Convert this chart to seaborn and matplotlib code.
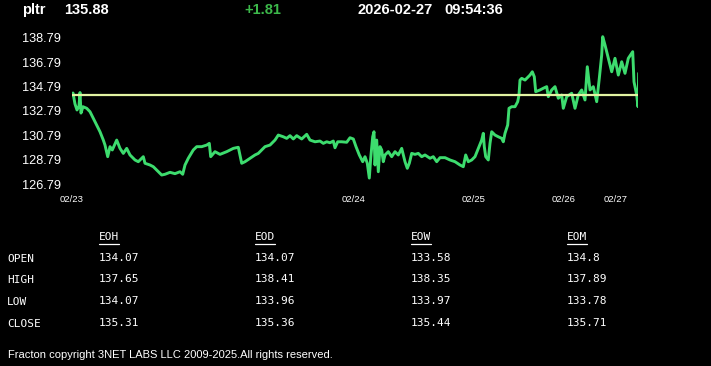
import matplotlib
matplotlib.use("Agg")
import matplotlib.pyplot as plt
import seaborn as sns
import pandas as pd
from matplotlib.lines import Line2D

# ---------------- data ----------------
symbol = "pltr"
last_price = "135.88"
change = "+1.81"
stamp_date = "2026-02-27"
stamp_time = "09:54:36"
prev_close = 134.07

sample = [0, 1, 3, 5, 7, 8, 9, 11, 14.7, 18, 21.3, 24.7, 28, 31.3, 33, 35.7, 38, 40.3, 44.7, 48,
          51.3, 54.7, 58, 63, 66.3, 71.3, 73, 78, 81.3, 86.3, 89.7, 93, 98, 103, 108, 110.7, 113,
          116.3, 121.3, 124.7, 129.7, 134.7, 137.3, 138.7, 143, 148, 154.7, 161.3, 166.3, 169.7,
          173, 178, 183, 186.3, 188, 193, 198, 203, 206.3, 211.3, 214.7, 218, 221.3, 224.7, 229.7,
          234.7, 238, 243, 248, 251.3, 254.7, 258, 261.3, 263, 265.7, 269.7, 274.7, 278, 281.3,
          284, 287.3, 290.7, 293, 295.3, 297.3, 298.7, 300.7, 302, 303, 304.7, 306.3, 308, 309.7,
          311.3, 313, 316.3, 319.7, 323, 326.3, 329.7, 333, 335.3, 337.3, 339.7, 343, 346.3,
          349.7, 353, 358, 361.3, 364.7, 368, 373, 378, 383, 388, 391.3, 393.7, 396.3, 399.7,
          403, 406.3, 409.7, 411.3, 412.3, 413.7, 416.3, 418, 419.7, 423, 426.3, 429.7, 431.3,
          433, 435.7, 437, 439.7, 443, 445.7, 447, 448, 449.7, 453, 458, 460.3, 462.3, 463.7,
          468, 471.3, 474.7, 476.3, 479.7, 483, 486.3, 489.7, 491.3, 494.7, 499.7, 503, 506.3,
          509.7, 513, 515.3, 518, 521.3, 524.7, 527.3, 529.7, 530.7, 533, 536.3, 539.7, 543,
          546.3, 549.7, 553, 556.3, 560.7, 562, 564.7, 566, 566.7]
price = [134.07, 134.26, 133.36, 132.87, 133.20, 134.30, 132.62, 133.14, 133.01, 132.73, 132.19,
         131.64, 131.09, 130.41, 130.00, 129.05, 129.87, 129.60, 130.41, 129.73, 129.32, 129.73,
         129.19, 128.78, 128.64, 129.05, 128.51, 128.37, 128.23, 127.82, 127.55, 127.61, 127.77,
         127.66, 127.82, 127.61, 128.37, 128.92, 129.60, 129.87, 129.87, 130.00, 130.14, 129.05,
         129.46, 129.24, 129.46, 129.73, 129.82, 128.51, 128.64, 128.92, 129.19, 129.32, 129.46,
         129.87, 130.00, 130.41, 130.82, 130.68, 130.55, 130.77, 130.50, 130.77, 130.50, 130.88,
         130.41, 130.27, 130.33, 130.14, 130.27, 130.19, 130.33, 129.78, 130.27, 130.27, 130.23,
         130.60, 130.50, 129.87, 129.19, 128.64, 129.05, 128.51, 127.30, 128.92, 130.68, 131.09,
         128.37, 130.41, 127.82, 129.87, 129.60, 128.64, 129.19, 129.46, 129.05, 129.46, 129.19,
         129.73, 128.64, 128.10, 128.51, 129.32, 129.24, 129.32, 129.05, 129.19, 128.92, 129.05,
         128.64, 128.97, 128.97, 128.78, 128.64, 128.37, 128.23, 129.19, 128.64, 128.78, 129.05,
         129.73, 130.41, 130.96, 129.87, 129.05, 128.78, 130.14, 131.09, 130.82, 130.68, 130.55,
         130.27, 130.96, 131.64, 133.01, 133.14, 133.14, 133.55, 134.10, 135.32, 135.46, 135.32,
         135.73, 136.00, 135.59, 134.37, 134.51, 134.65, 134.78, 133.96, 134.51, 134.78, 133.83,
         134.10, 133.01, 133.96, 134.24, 133.01, 134.10, 134.51, 133.69, 136.41, 134.51, 134.78,
         133.55, 135.46, 137.37, 138.87, 138.19, 137.10, 136.00, 137.10, 135.73, 136.82, 135.87,
         137.10, 137.64, 135.18, 134.10, 133.14, 135.88]

date_ticks = [0, 282, 402, 492, 544]
date_labels = ["02/23", "02/24", "02/25", "02/26", "02/27"]
y_ticks = [126.79, 128.79, 130.79, 132.79, 134.79, 136.79, 138.79]

table_cols = ["EOH", "EOD", "EOW", "EOM"]
table_rows = ["OPEN", "HIGH", "LOW", "CLOSE"]
table_open = ["134.07", "134.07", "133.58", "134.8"]
table_high = ["137.65", "138.41", "138.35", "137.89"]
table_low = ["134.07", "133.96", "133.97", "133.78"]
table_close = ["135.31", "135.36", "135.44", "135.71"]

footer = "Fracton copyright 3NET LABS LLC 2009-2025.All rights reserved."

# ---------------- style ----------------
sns.set_style("dark", {"axes.facecolor": "black", "figure.facecolor": "black"})
plt.rcParams["font.family"] = ["Liberation Sans", "DejaVu Sans"]

W, H = 711, 366
fig = plt.figure(figsize=(W / 100, H / 100), dpi=100, facecolor="black")

def fx(px):
    return px / W

def fy(py):
    return 1 - py / H

ymin, ymax = 126.79, 139.3
ppu = 12.22
ax_bottom_px = 184.3
ax_top_px = ax_bottom_px - (ymax - ymin) * ppu
ax = fig.add_axes([fx(72), fy(ax_bottom_px), fx(638) - fx(72), fy(ax_top_px) - fy(ax_bottom_px)])
ax.set_facecolor("black")

df = pd.DataFrame({"sample": sample, "price": price})
sns.lineplot(data=df, x="sample", y="price", ax=ax, color="#3ddc6e", linewidth=2.1)
ax.axhline(prev_close, color="#e2f3a2", linewidth=1.6, xmin=0, xmax=1)

ax.set_xlim(0, 566)
ax.set_ylim(ymin, ymax)
ax.set_xlabel("")
ax.set_ylabel("")
ax.grid(False)
for s in ax.spines.values():
    s.set_visible(False)

ax.set_yticks(y_ticks)
ax.set_yticklabels([f"{v:.2f}" for v in y_ticks], color="white", fontsize=9.2)
ax.tick_params(axis="y", length=0, pad=8)
ax.set_xticks(date_ticks)
ax.set_xticklabels(date_labels, color="white", fontsize=6.8)
ax.tick_params(axis="x", length=3, width=1, color="white", direction="out", pad=4.5)

# ---------------- header ----------------
hkw = dict(fontsize=10.5, fontweight="bold", va="center", ha="left", color="white")
fig.text(fx(22), fy(10), symbol, **hkw)
fig.text(fx(64), fy(10), last_price, **hkw)
fig.text(fx(244), fy(10), change, **{**hkw, "color": "#3cb84a"})
fig.text(fx(357), fy(10), stamp_date, **hkw)
fig.text(fx(444), fy(10), stamp_time, **hkw)

# ---------------- table ----------------
mono = dict(family=["DejaVu Sans Mono"], fontsize=8.0, color="white",
            va="center", ha="left")
col_x = [99, 255, 411, 567]
row_y = [259, 280, 302, 324]
for cx, name in zip(col_x, table_cols):
    fig.text(fx(cx), fy(237), name, **mono)
    fig.add_artist(Line2D([fx(cx), fx(cx + 20)], [fy(244), fy(244)], color="white",
                          linewidth=0.9, transform=fig.transFigure))
for ry, name in zip(row_y, table_rows):
    fig.text(fx(7), fy(ry), name, **mono)
for ry, vals in zip(row_y, [table_open, table_high, table_low, table_close]):
    for cx, v in zip(col_x, vals):
        fig.text(fx(cx), fy(ry - 1), v, **mono)

fig.text(fx(8), fy(355), footer, fontsize=8, color="white", va="center", ha="left")

fig.savefig("out.png", dpi=100, facecolor="black")
